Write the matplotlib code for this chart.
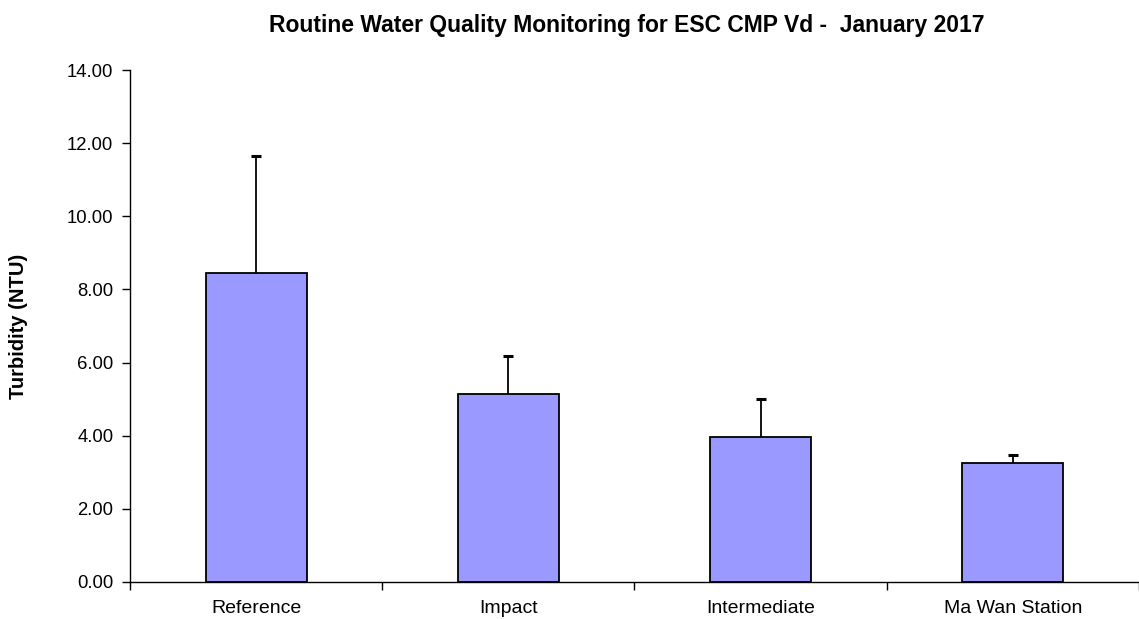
import numpy as np
import matplotlib
matplotlib.use("Agg")
import matplotlib.pyplot as plt
from matplotlib.ticker import FixedLocator, FormatStrFormatter, NullFormatter

plt.rcParams["font.family"] = ["Liberation Sans", "DejaVu Sans"]

sites = ["Reference", "Impact", "Intermediate", "Ma Wan Station"]
turbidity = [8.45, 5.14, 3.96, 3.25]
turb_sd = [3.20, 1.05, 1.05, 0.22]

fig = plt.figure(figsize=(11.39, 6.19), dpi=100)
ax = fig.add_axes([0.1141, 0.0598, 0.8859, 0.8271])

x = np.arange(len(sites))
ax.bar(x, turbidity, width=0.4, color="#9999FF", edgecolor="black", linewidth=1.3, zorder=2)
eb = ax.errorbar(x, turbidity, yerr=[np.zeros(len(sites)), turb_sd], fmt="none",
                 ecolor="black", elinewidth=1.3, capsize=3.5, capthick=2.2, zorder=3)
eb[1][0].set_visible(False)  # only the upper cap, like Excel "plus" bars

ax.set_xlim(-0.5, len(sites) - 0.5)
ax.set_ylim(0, 14)
ax.set_yticks(np.arange(0, 14.1, 2))
ax.yaxis.set_major_formatter(FormatStrFormatter("%.2f"))

# category labels centred, tick marks on category boundaries (Excel style)
ax.xaxis.set_major_locator(FixedLocator(np.arange(-0.5, len(sites), 1.0)))
ax.xaxis.set_major_formatter(NullFormatter())
ax.xaxis.set_minor_locator(FixedLocator(x))
ax.set_xticklabels(sites, minor=True)
ax.tick_params(axis="x", which="minor", length=0, pad=13, labelsize=14)
ax.tick_params(axis="x", which="major", direction="out", length=6, width=1)
ax.tick_params(axis="y", direction="out", length=6, width=1, labelsize=13.3, pad=6)

for s in ["top", "right"]:
    ax.spines[s].set_visible(False)
for s in ["left", "bottom"]:
    ax.spines[s].set_linewidth(1)

ax.set_ylabel("Turbidity (NTU)", fontsize=14.5, fontweight="bold", labelpad=28)
fig.suptitle("Routine Water Quality Monitoring for ESC CMP Vd -  January 2017",
             x=0.55, y=0.978, fontsize=16.5, fontweight="bold")

fig.savefig("out.png", dpi=100)
